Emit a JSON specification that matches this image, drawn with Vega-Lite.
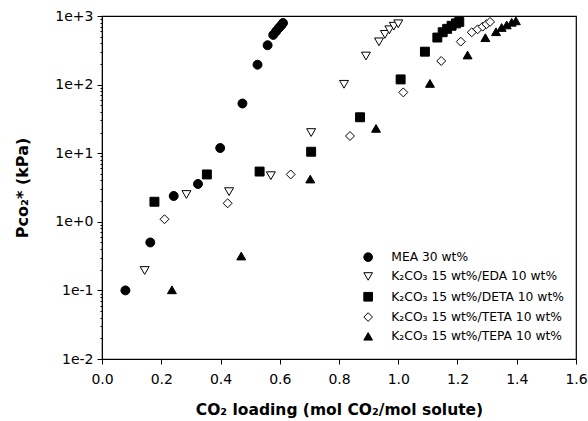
{
  "$schema": "https://vega.github.io/schema/vega-lite/v6.json",
  "width": 474,
  "height": 343,
  "autosize": "none",
  "padding": {"left": 102, "top": 16, "right": 12, "bottom": 62},
  "background": "white",
  "config": {
    "view": {"stroke": "black", "strokeWidth": 1.2},
    "font": "DejaVu Sans",
    "legend": {
      "title": null,
      "orient": "none",
      "legendX": 260,
      "legendY": 235,
      "labelFont": "DejaVu Sans",
      "labelFontSize": 12.3,
      "labelColor": "black",
      "labelLimit": 0,
      "labelOffset": 17,
      "rowPadding": 6.3,
      "symbolSize": 75,
      "symbolStrokeColor": "black",
      "symbolStrokeWidth": 1,
      "symbolOpacity": 1
    }
  },
  "data": {
    "values": [
      {"series": "MEA 30 wt%", "loading": 0.079, "p": 0.1},
      {"series": "MEA 30 wt%", "loading": 0.163, "p": 0.5},
      {"series": "MEA 30 wt%", "loading": 0.242, "p": 2.38},
      {"series": "MEA 30 wt%", "loading": 0.324, "p": 3.56},
      {"series": "MEA 30 wt%", "loading": 0.399, "p": 11.9},
      {"series": "MEA 30 wt%", "loading": 0.474, "p": 53},
      {"series": "MEA 30 wt%", "loading": 0.525, "p": 195},
      {"series": "MEA 30 wt%", "loading": 0.559, "p": 375},
      {"series": "MEA 30 wt%", "loading": 0.578, "p": 530},
      {"series": "MEA 30 wt%", "loading": 0.588, "p": 600},
      {"series": "MEA 30 wt%", "loading": 0.597, "p": 670},
      {"series": "MEA 30 wt%", "loading": 0.605, "p": 730},
      {"series": "MEA 30 wt%", "loading": 0.611, "p": 790},
      {"series": "K₂CO₃ 15 wt%/EDA 10 wt%", "loading": 0.144, "p": 0.195},
      {"series": "K₂CO₃ 15 wt%/EDA 10 wt%", "loading": 0.285, "p": 2.5},
      {"series": "K₂CO₃ 15 wt%/EDA 10 wt%", "loading": 0.429, "p": 2.75},
      {"series": "K₂CO₃ 15 wt%/EDA 10 wt%", "loading": 0.57, "p": 4.7},
      {"series": "K₂CO₃ 15 wt%/EDA 10 wt%", "loading": 0.706, "p": 20},
      {"series": "K₂CO₃ 15 wt%/EDA 10 wt%", "loading": 0.817, "p": 101},
      {"series": "K₂CO₃ 15 wt%/EDA 10 wt%", "loading": 0.891, "p": 261},
      {"series": "K₂CO₃ 15 wt%/EDA 10 wt%", "loading": 0.935, "p": 420},
      {"series": "K₂CO₃ 15 wt%/EDA 10 wt%", "loading": 0.955, "p": 540},
      {"series": "K₂CO₃ 15 wt%/EDA 10 wt%", "loading": 0.97, "p": 630},
      {"series": "K₂CO₃ 15 wt%/EDA 10 wt%", "loading": 0.985, "p": 710},
      {"series": "K₂CO₃ 15 wt%/EDA 10 wt%", "loading": 1.0, "p": 770},
      {"series": "K₂CO₃ 15 wt%/DETA 10 wt%", "loading": 0.177, "p": 1.96},
      {"series": "K₂CO₃ 15 wt%/DETA 10 wt%", "loading": 0.354, "p": 4.9},
      {"series": "K₂CO₃ 15 wt%/DETA 10 wt%", "loading": 0.532, "p": 5.4},
      {"series": "K₂CO₃ 15 wt%/DETA 10 wt%", "loading": 0.706, "p": 10.5},
      {"series": "K₂CO₃ 15 wt%/DETA 10 wt%", "loading": 0.871, "p": 33.4},
      {"series": "K₂CO₃ 15 wt%/DETA 10 wt%", "loading": 1.008, "p": 119},
      {"series": "K₂CO₃ 15 wt%/DETA 10 wt%", "loading": 1.09, "p": 302},
      {"series": "K₂CO₃ 15 wt%/DETA 10 wt%", "loading": 1.132, "p": 485},
      {"series": "K₂CO₃ 15 wt%/DETA 10 wt%", "loading": 1.15, "p": 580},
      {"series": "K₂CO₃ 15 wt%/DETA 10 wt%", "loading": 1.165, "p": 650},
      {"series": "K₂CO₃ 15 wt%/DETA 10 wt%", "loading": 1.18, "p": 720},
      {"series": "K₂CO₃ 15 wt%/DETA 10 wt%", "loading": 1.195, "p": 780},
      {"series": "K₂CO₃ 15 wt%/DETA 10 wt%", "loading": 1.206, "p": 820},
      {"series": "K₂CO₃ 15 wt%/TETA 10 wt%", "loading": 0.211, "p": 1.09},
      {"series": "K₂CO₃ 15 wt%/TETA 10 wt%", "loading": 0.424, "p": 1.86},
      {"series": "K₂CO₃ 15 wt%/TETA 10 wt%", "loading": 0.637, "p": 4.9},
      {"series": "K₂CO₃ 15 wt%/TETA 10 wt%", "loading": 0.837, "p": 17.8},
      {"series": "K₂CO₃ 15 wt%/TETA 10 wt%", "loading": 1.017, "p": 77},
      {"series": "K₂CO₃ 15 wt%/TETA 10 wt%", "loading": 1.145, "p": 221},
      {"series": "K₂CO₃ 15 wt%/TETA 10 wt%", "loading": 1.211, "p": 423},
      {"series": "K₂CO₃ 15 wt%/TETA 10 wt%", "loading": 1.248, "p": 578},
      {"series": "K₂CO₃ 15 wt%/TETA 10 wt%", "loading": 1.268, "p": 640},
      {"series": "K₂CO₃ 15 wt%/TETA 10 wt%", "loading": 1.285, "p": 700},
      {"series": "K₂CO₃ 15 wt%/TETA 10 wt%", "loading": 1.298, "p": 760},
      {"series": "K₂CO₃ 15 wt%/TETA 10 wt%", "loading": 1.31, "p": 820},
      {"series": "K₂CO₃ 15 wt%/TEPA 10 wt%", "loading": 0.236, "p": 0.102},
      {"series": "K₂CO₃ 15 wt%/TEPA 10 wt%", "loading": 0.47, "p": 0.317},
      {"series": "K₂CO₃ 15 wt%/TEPA 10 wt%", "loading": 0.703, "p": 4.2},
      {"series": "K₂CO₃ 15 wt%/TEPA 10 wt%", "loading": 0.925, "p": 23},
      {"series": "K₂CO₃ 15 wt%/TEPA 10 wt%", "loading": 1.107, "p": 104},
      {"series": "K₂CO₃ 15 wt%/TEPA 10 wt%", "loading": 1.234, "p": 270},
      {"series": "K₂CO₃ 15 wt%/TEPA 10 wt%", "loading": 1.294, "p": 483},
      {"series": "K₂CO₃ 15 wt%/TEPA 10 wt%", "loading": 1.33, "p": 590},
      {"series": "K₂CO₃ 15 wt%/TEPA 10 wt%", "loading": 1.349, "p": 680},
      {"series": "K₂CO₃ 15 wt%/TEPA 10 wt%", "loading": 1.366, "p": 740},
      {"series": "K₂CO₃ 15 wt%/TEPA 10 wt%", "loading": 1.383, "p": 810},
      {"series": "K₂CO₃ 15 wt%/TEPA 10 wt%", "loading": 1.397, "p": 850}
    ]
  },
  "mark": {"type": "point", "size": 80, "strokeWidth": 1, "opacity": 1, "fillOpacity": 1},
  "encoding": {
    "x": {
      "field": "loading",
      "type": "quantitative",
      "scale": {"domain": [0, 1.6], "nice": false, "zero": false},
      "axis": {
        "title": "CO₂ loading (mol CO₂/mol solute)",
        "values": [0, 0.2, 0.4, 0.6, 0.8, 1.0, 1.2, 1.4, 1.6],
        "format": ".1f",
        "labelFlush": false,
        "grid": false,
        "domainColor": "black",
        "tickColor": "black",
        "tickSize": 5,
        "labelColor": "black",
        "labelFont": "DejaVu Sans",
        "labelFontSize": 14,
        "labelPadding": 8,
        "titleFont": "DejaVu Sans",
        "titleFontSize": 15.5,
        "titleFontWeight": "bold",
        "titleColor": "black",
        "titlePadding": 16
      }
    },
    "y": {
      "field": "p",
      "type": "quantitative",
      "scale": {"type": "log", "domain": [0.01, 1000], "nice": false},
      "axis": {
        "title": "Pᴄᴏ₂* (kPa)",
        "values": [0.01, 0.02, 0.03, 0.04, 0.05, 0.06, 0.07, 0.08, 0.09, 0.1, 0.2, 0.3, 0.4, 0.5, 0.6, 0.7, 0.8, 0.9, 1, 2, 3, 4, 5, 6, 7, 8, 9, 10, 20, 30, 40, 50, 60, 70, 80, 90, 100, 200, 300, 400, 500, 600, 700, 800, 900, 1000],
        "labelExpr": "abs(log(datum.value)/LN10 - round(log(datum.value)/LN10)) < 0.001 ? format(datum.value, '.0e') : ''",
        "labelOverlap": false,
        "labelFlush": false,
        "grid": false,
        "domainColor": "black",
        "tickColor": "black",
        "tickSize": {"condition": {"test": "abs(log(datum.value)/LN10 - round(log(datum.value)/LN10)) < 0.001", "value": 5}, "value": 2},
        "labelColor": "black",
        "labelFont": "DejaVu Sans",
        "labelFontSize": 14,
        "labelPadding": 4,
        "titleFont": "DejaVu Sans",
        "titleFontSize": 16,
        "titleFontWeight": "bold",
        "titleColor": "black",
        "titlePadding": 24
      }
    },
    "shape": {
      "field": "series",
      "type": "nominal",
      "sort": null,
      "scale": {
        "domain": ["MEA 30 wt%", "K₂CO₃ 15 wt%/EDA 10 wt%", "K₂CO₃ 15 wt%/DETA 10 wt%", "K₂CO₃ 15 wt%/TETA 10 wt%", "K₂CO₃ 15 wt%/TEPA 10 wt%"],
        "range": ["circle", "triangle-down", "square", "diamond", "triangle-up"]
      },
      "legend": {"title": null}
    },
    "fill": {
      "field": "series",
      "type": "nominal",
      "sort": null,
      "scale": {
        "domain": ["MEA 30 wt%", "K₂CO₃ 15 wt%/EDA 10 wt%", "K₂CO₃ 15 wt%/DETA 10 wt%", "K₂CO₃ 15 wt%/TETA 10 wt%", "K₂CO₃ 15 wt%/TEPA 10 wt%"],
        "range": ["black", "white", "black", "white", "black"]
      },
      "legend": {"title": null}
    },
    "stroke": {
      "field": "series",
      "type": "nominal",
      "sort": null,
      "scale": {
        "domain": ["MEA 30 wt%", "K₂CO₃ 15 wt%/EDA 10 wt%", "K₂CO₃ 15 wt%/DETA 10 wt%", "K₂CO₃ 15 wt%/TETA 10 wt%", "K₂CO₃ 15 wt%/TEPA 10 wt%"],
        "range": ["black", "black", "black", "black", "black"]
      },
      "legend": {"title": null}
    }
  }
}
